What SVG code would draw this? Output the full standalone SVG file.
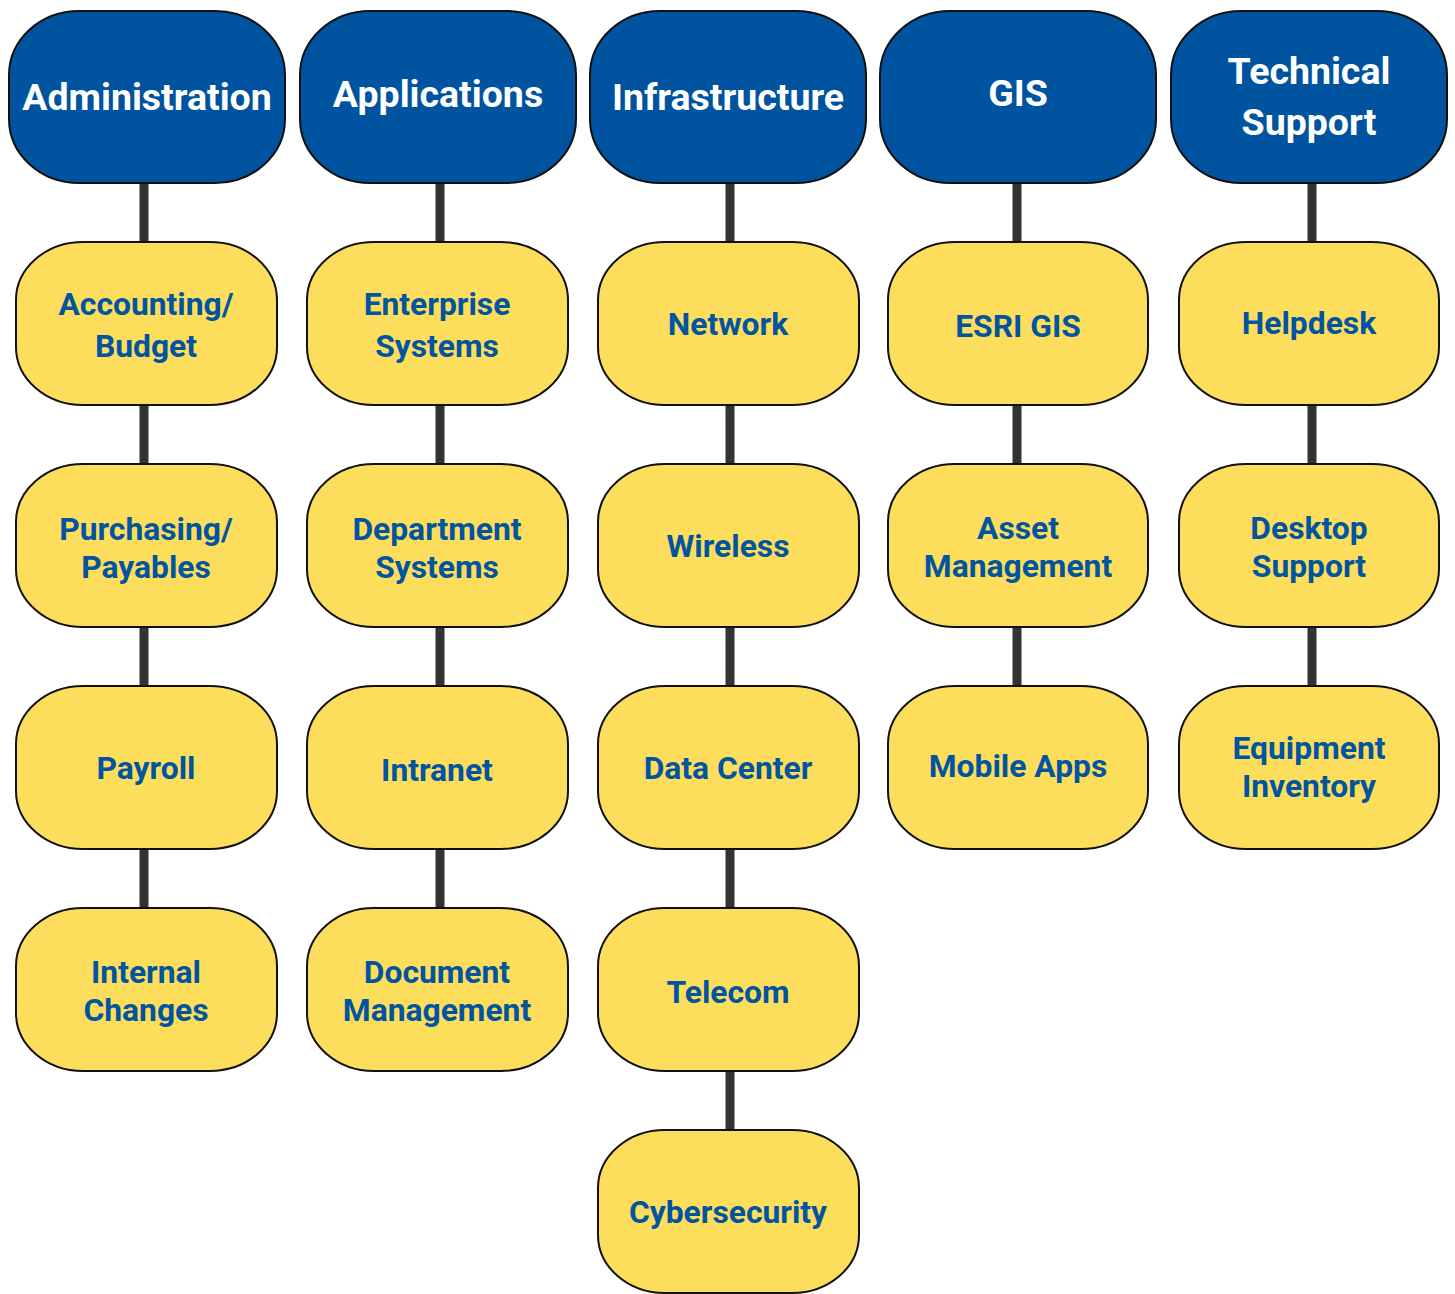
<svg xmlns="http://www.w3.org/2000/svg" width="1455" height="1294" viewBox="0 0 1455 1294">
<style>
.hd{fill:#00539e;stroke:#111;stroke-width:2}
.nd{fill:#fddd5c;stroke:#111;stroke-width:2}
.ht{font-family:Roboto,"Liberation Sans",sans-serif;font-weight:bold;font-size:37.5px;fill:#fff;text-anchor:middle}
.nt{font-family:Roboto,"Liberation Sans",sans-serif;font-weight:bold;font-size:31.8px;fill:#0054a0;text-anchor:middle}
.c{stroke:#333;stroke-width:9;fill:none}
</style>
<rect width="1455" height="1294" fill="#fff"/>
<g id="connectors">
<path class="c" d="M144 183V908"/>
<path class="c" d="M440 183V908"/>
<path class="c" d="M730 183V1130"/>
<path class="c" d="M1017 183V686"/>
<path class="c" d="M1312 183V686"/>
</g>
<g id="h-admin"><rect class="hd" x="9" y="11" width="276" height="172" rx="70" ry="64"/><text class="ht" x="147" y="110">Administration</text></g>
<g id="h-apps"><rect class="hd" x="300" y="11" width="276" height="172" rx="70" ry="64"/><text class="ht" x="438" y="107">Applications</text></g>
<g id="h-infra"><rect class="hd" x="590" y="11" width="276" height="172" rx="70" ry="64"/><text class="ht" x="728" y="110">Infrastructure</text></g>
<g id="h-gis"><rect class="hd" x="880" y="11" width="276" height="172" rx="70" ry="64"/><text class="ht" x="1018" y="106">GIS</text></g>
<g id="h-tech"><rect class="hd" x="1171" y="11" width="276" height="172" rx="70" ry="64"/><text class="ht" x="1309" y="84">Technical</text><text class="ht" x="1309" y="135">Support</text></g>

<g id="n-accounting"><rect class="nd" x="16" y="242" width="261" height="163" rx="67" ry="58"/><text class="nt" x="146" y="315">Accounting/</text><text class="nt" x="146" y="357">Budget</text></g>
<g id="n-purchasing"><rect class="nd" x="16" y="464" width="261" height="163" rx="67" ry="58"/><text class="nt" x="146" y="540">Purchasing/</text><text class="nt" x="146" y="578">Payables</text></g>
<g id="n-payroll"><rect class="nd" x="16" y="686" width="261" height="163" rx="67" ry="58"/><text class="nt" x="146" y="779">Payroll</text></g>
<g id="n-internal"><rect class="nd" x="16" y="908" width="261" height="163" rx="67" ry="58"/><text class="nt" x="146" y="983">Internal</text><text class="nt" x="146" y="1021">Changes</text></g>

<g id="n-enterprise"><rect class="nd" x="307" y="242" width="261" height="163" rx="67" ry="58"/><text class="nt" x="437" y="315">Enterprise</text><text class="nt" x="437" y="357">Systems</text></g>
<g id="n-department"><rect class="nd" x="307" y="464" width="261" height="163" rx="67" ry="58"/><text class="nt" x="437" y="540">Department</text><text class="nt" x="437" y="578">Systems</text></g>
<g id="n-intranet"><rect class="nd" x="307" y="686" width="261" height="163" rx="67" ry="58"/><text class="nt" x="437" y="781">Intranet</text></g>
<g id="n-document"><rect class="nd" x="307" y="908" width="261" height="163" rx="67" ry="58"/><text class="nt" x="437" y="983">Document</text><text class="nt" x="437" y="1021">Management</text></g>

<g id="n-network"><rect class="nd" x="598" y="242" width="261" height="163" rx="67" ry="58"/><text class="nt" x="728" y="335">Network</text></g>
<g id="n-wireless"><rect class="nd" x="598" y="464" width="261" height="163" rx="67" ry="58"/><text class="nt" x="728" y="557">Wireless</text></g>
<g id="n-datacenter"><rect class="nd" x="598" y="686" width="261" height="163" rx="67" ry="58"/><text class="nt" x="728" y="779">Data Center</text></g>
<g id="n-telecom"><rect class="nd" x="598" y="908" width="261" height="163" rx="67" ry="58"/><text class="nt" x="728" y="1003">Telecom</text></g>
<g id="n-cyber"><rect class="nd" x="598" y="1130" width="261" height="163" rx="67" ry="58"/><text class="nt" x="728" y="1223">Cybersecurity</text></g>

<g id="n-esri"><rect class="nd" x="888" y="242" width="260" height="163" rx="67" ry="58"/><text class="nt" x="1018" y="337">ESRI GIS</text></g>
<g id="n-asset"><rect class="nd" x="888" y="464" width="260" height="163" rx="67" ry="58"/><text class="nt" x="1018" y="539">Asset</text><text class="nt" x="1018" y="577">Management</text></g>
<g id="n-mobile"><rect class="nd" x="888" y="686" width="260" height="163" rx="67" ry="58"/><text class="nt" x="1018" y="777">Mobile Apps</text></g>

<g id="n-helpdesk"><rect class="nd" x="1179" y="242" width="260" height="163" rx="67" ry="58"/><text class="nt" x="1309" y="334">Helpdesk</text></g>
<g id="n-desktop"><rect class="nd" x="1179" y="464" width="260" height="163" rx="67" ry="58"/><text class="nt" x="1309" y="539">Desktop</text><text class="nt" x="1309" y="577">Support</text></g>
<g id="n-equipment"><rect class="nd" x="1179" y="686" width="260" height="163" rx="67" ry="58"/><text class="nt" x="1309" y="759">Equipment</text><text class="nt" x="1309" y="797">Inventory</text></g>
</svg>
